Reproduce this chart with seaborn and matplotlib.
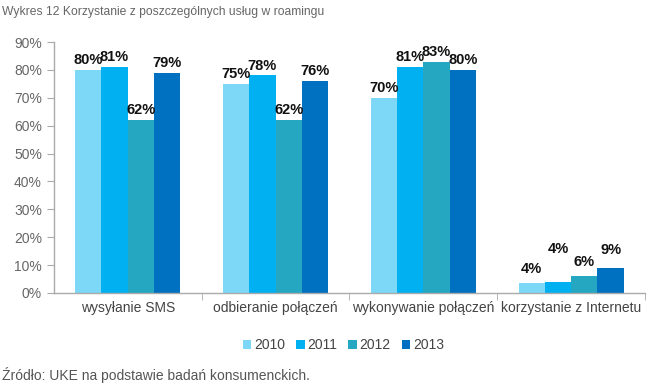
import matplotlib
matplotlib.use("Agg")
import matplotlib.pyplot as plt
import seaborn as sns
import pandas as pd
import numpy as np

categories = ["wysyłanie SMS", "odbieranie połączeń", "wykonywanie połączeń", "korzystanie z Internetu"]
years = ["2010", "2011", "2012", "2013"]
v2010 = [80, 75, 70, 3.6]
v2011 = [81, 78, 81, 3.9]
v2012 = [62, 62, 83, 6.1]
v2013 = [79, 76, 80, 9]
labels2010 = ["80%", "75%", "70%", "4%"]
labels2011 = ["81%", "78%", "81%", "4%"]
labels2012 = ["62%", "62%", "83%", "6%"]
labels2013 = ["79%", "76%", "80%", "9%"]
yticks = [0, 10, 20, 30, 40, 50, 60, 70, 80, 90]
colors = ["#7DD8F8", "#00B0F0", "#25A7C2", "#0070C0"]
# extra label offsets (points) for the last group, mimicking the staggered labels
internet_pad = [5, 19, 5, 8]

rows = []
for y, vals in zip(years, [v2010, v2011, v2012, v2013]):
    for c, v in zip(categories, vals):
        rows.append({"cat": c, "year": y, "val": v})
df = pd.DataFrame(rows)

sns.set_style("white")
plt.rcParams['font.family'] = ['Liberation Sans', 'DejaVu Sans']

fig = plt.figure(figsize=(6.55, 3.89), dpi=100)
ax = fig.add_axes([0.082, 0.247, 0.903, 0.645])
sns.barplot(data=df, x="cat", y="val", hue="year", palette=colors, ax=ax,
            width=0.71, saturation=1, gap=0, legend=True, linewidth=0)

all_labels = [labels2010, labels2011, labels2012, labels2013]
for i, (cont, labs) in enumerate(zip(ax.containers, all_labels)):
    ax.bar_label(cont, labels=labs[:3] + [""], padding=2, fontsize=10.5,
                 fontweight="bold", color="#111111")
    bar = cont.patches[3]
    ax.annotate(labs[3], (bar.get_x() + bar.get_width() / 2, bar.get_height()),
                xytext=(0, internet_pad[i]), textcoords="offset points",
                ha="center", va="bottom", fontsize=10.5, fontweight="bold", color="#111111")

ax.set_ylim(0, 90)
ax.set_xlim(-0.5, 3.5)
ax.set_yticks(yticks)
ax.set_yticklabels([f"{t}%" for t in yticks], fontsize=10, color="#666666")
ax.set_xticks(range(len(categories)))
ax.set_xticklabels(categories, fontsize=10, color="#444444")
ax.tick_params(axis="x", which="major", length=0, pad=6)
ax.set_xticks([0.5, 1.5, 2.5, 3.5], minor=True)
ax.tick_params(axis="x", which="minor", length=5, color="#AAAAAA", direction="out", bottom=True)
ax.tick_params(axis="y", length=5, color="#AAAAAA", direction="out", left=True)
ax.set_xlabel("")
ax.set_ylabel("")
for s in ["top", "right"]:
    ax.spines[s].set_visible(False)
for s in ["left", "bottom"]:
    ax.spines[s].set_color("#AAAAAA")
    ax.spines[s].set_linewidth(1)

handles, lbls = ax.get_legend_handles_labels()
ax.legend(handles, lbls, loc="upper center", bbox_to_anchor=(0.49, -0.13), ncol=4,
          frameon=False, fontsize=10, handlelength=0.6, handleheight=0.6,
          handletextpad=0.2, columnspacing=0.8, labelcolor="#444444")

fig.text(0.003, 0.985, "Wykres 12 Korzystanie z poszczególnych usług w roamingu",
         fontsize=8.7, color="#666666", va="top", ha="left")
fig.text(0.003, 0.035, "Źródło: UKE na podstawie badań konsumenckich.",
         fontsize=10, color="#555555", va="center", ha="left")

fig.savefig("out.png", dpi=100)
